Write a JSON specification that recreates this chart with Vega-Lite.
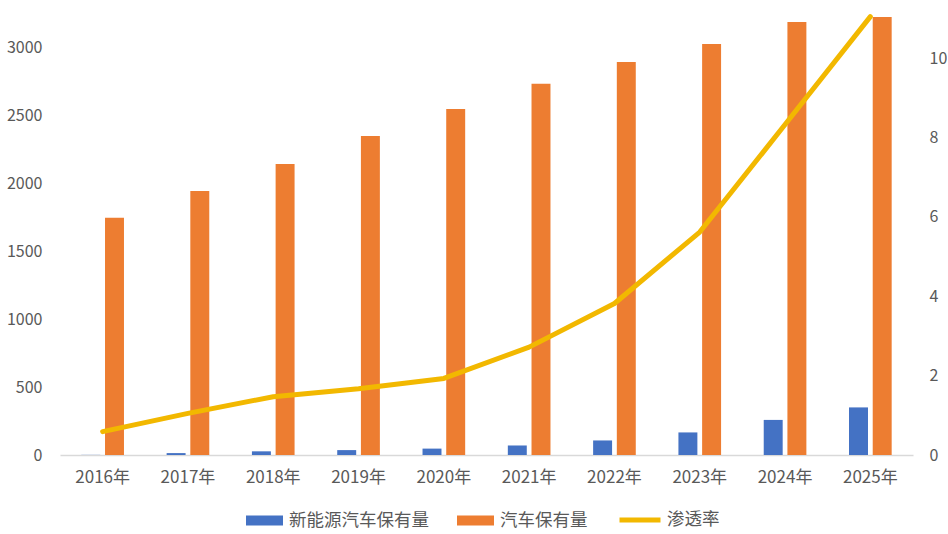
{
  "$schema": "https://vega.github.io/schema/vega-lite/v6.json",
  "width": 853,
  "height": 455,
  "padding": {"left": 6, "top": 0, "right": 0, "bottom": 0},
  "background": "white",
  "config": {
    "view": {"stroke": null},
    "font": "Noto Sans CJK SC",
    "axis": {"labelFont": "Noto Sans CJK SC", "labelColor": "#595959", "grid": false, "ticks": false, "title": null}
  },
  "data": {
    "values": [
      {"year": "2016年", "ev": 1, "total": 1745, "rate": 0.59},
      {"year": "2017年", "ev": 14, "total": 1942, "rate": 1.05},
      {"year": "2018年", "ev": 27, "total": 2140, "rate": 1.47},
      {"year": "2019年", "ev": 36, "total": 2346, "rate": 1.67},
      {"year": "2020年", "ev": 47, "total": 2545, "rate": 1.93},
      {"year": "2021年", "ev": 70, "total": 2730, "rate": 2.72},
      {"year": "2022年", "ev": 107, "total": 2890, "rate": 3.82},
      {"year": "2023年", "ev": 166, "total": 3022, "rate": 5.62},
      {"year": "2024年", "ev": 258, "total": 3184, "rate": 8.33},
      {"year": "2025年", "ev": 350, "total": 3221, "rate": 11.05}
    ]
  },
  "encoding": {
    "x": {
      "field": "year",
      "type": "nominal",
      "sort": null,
      "scale": {"paddingInner": 0.5, "paddingOuter": 0.25},
      "axis": {"labelAngle": 0, "labelFontSize": 17, "labelPadding": 14, "domainColor": "#D9D9D9", "domainWidth": 1.5}
    }
  },
  "layer": [
    {
      "transform": [
        {"fold": ["ev", "total"], "as": ["key", "value"]},
        {"lookup": "key", "from": {"data": {"values": [{"key": "ev", "series": "新能源汽车保有量"}, {"key": "total", "series": "汽车保有量"}]}, "key": "key", "fields": ["series"]}}
      ],
      "mark": {"type": "bar"},
      "encoding": {
        "xOffset": {"field": "series", "type": "nominal", "scale": {"paddingInner": 0.2, "paddingOuter": 0}},
        "y": {
          "field": "value",
          "type": "quantitative",
          "scale": {"domain": [0, 3346], "nice": false},
          "axis": {"values": [0, 500, 1000, 1500, 2000, 2500, 3000], "format": "d", "domain": false, "labelFontSize": 16, "labelPadding": 18}
        },
        "color": {
          "field": "series",
          "type": "nominal",
          "scale": {"domain": ["新能源汽车保有量", "汽车保有量"], "range": ["#4472C4", "#ED7D31"]},
          "legend": {
            "title": null,
            "orient": "none",
            "direction": "horizontal",
            "legendX": 186,
            "legendY": 502,
            "symbolType": "M-1,-0.27L1,-0.27L1,0.27L-1,0.27Z",
            "symbolSize": 1369,
            "symbolStrokeWidth": 0,
            "labelFontSize": 17.5,
            "labelColor": "#595959",
            "labelOffset": 6,
            "columnPadding": 28
          }
        }
      }
    },
    {
      "mark": {"type": "line", "strokeWidth": 5, "strokeCap": "round", "strokeJoin": "round"},
      "encoding": {
        "y": {
          "field": "rate",
          "type": "quantitative",
          "scale": {"domain": [0, 11.47], "nice": false},
          "axis": {"orient": "right", "values": [0, 2, 4, 6, 8, 10], "format": "d", "domain": false, "labelFontSize": 16, "labelPadding": 16}
        },
        "stroke": {
          "datum": "渗透率",
          "type": "nominal",
          "scale": {"domain": ["渗透率"], "range": ["#F2B800"]},
          "legend": {
            "title": null,
            "orient": "none",
            "legendX": 557,
            "legendY": 497,
            "symbolType": "stroke",
            "symbolSize": 1681,
            "symbolStrokeWidth": 5,
            "labelFontSize": 17.5,
            "labelColor": "#595959",
            "labelOffset": 4
          }
        }
      }
    }
  ],
  "resolve": {"scale": {"y": "independent"}}
}
